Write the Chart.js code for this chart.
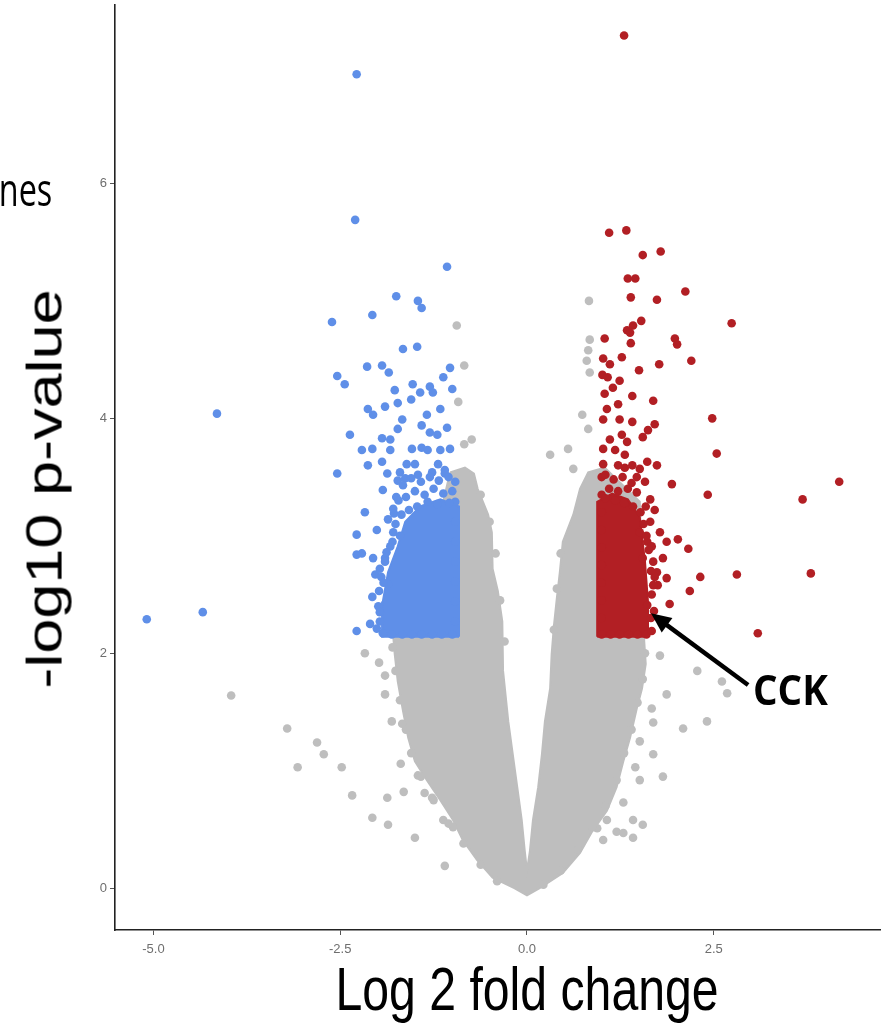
<!DOCTYPE html>
<html>
<head>
<meta charset="utf-8">
<script src="https://cdn.jsdelivr.net/npm/chart.js@4.4.1/dist/chart.umd.min.js"></script>
<style>
  html, body { margin: 0; padding: 0; background: #fff; }
  #wrap { position: relative; width: 894px; height: 1028px; overflow: hidden; }
  canvas { position: absolute; left: 0; top: 0; }
  .lbl { position: absolute; white-space: nowrap; line-height: 1; color: #000; }
  #nes { right: 842px; top: 158px; font: 45px "Open Sans", sans-serif; transform: scaleX(0.72); transform-origin: right center; }
  #ytitle { left: 44px; top: 489px; font: 63px "Liberation Sans", Arial, sans-serif; transform: translate(-50%, -50%) scaleX(0.79) rotate(-90deg); }
  #xtitle { left: 527px; top: 954px; font: 61px "Liberation Sans", Arial, sans-serif; transform: translateX(-50%) scaleX(0.79); }
  #cck { left: 753px; top: 660px; font: bold 42px "Open Sans", sans-serif; transform: scaleX(0.92); transform-origin: left center; }
</style>
</head>
<body>
<div id="wrap">
  <canvas id="volcano" width="894" height="1028"></canvas>
  <div class="lbl" id="nes">nes</div>
  <div class="lbl" id="ytitle">-log10 p-value</div>
  <div class="lbl" id="xtitle">Log 2 fold change</div>
  <div class="lbl" id="cck">CCK</div>
</div>
<script>
// axis ticks
const xTicks = [-5, -2.5, 0, 2.5];
const xTickLabels = ["-5.0", "-2.5", "0.0", "2.5"];
const yTicks = [0, 2, 4, 6];
const yTickLabels = ["0", "2", "4", "6"];

// outline of the dense grey V (non significant genes)
const grayCloud = [
  [-1.03,3.54],[-0.83,3.58],[-0.71,3.53],[-0.66,3.40],[-0.52,3.18],[-0.47,3.03],[-0.46,2.72],
  [-0.39,2.53],[-0.33,2.27],[-0.32,1.85],[-0.25,1.42],[-0.19,1.14],[-0.13,0.86],[-0.07,0.58],
  [-0.03,0.32],[0.00,0.15],[0.04,0.32],[0.08,0.58],[0.15,0.86],[0.20,1.14],[0.24,1.42],
  [0.31,1.70],[0.33,1.99],[0.36,2.23],[0.40,2.47],[0.44,2.69],[0.48,2.95],[0.62,3.18],
  [0.71,3.40],[0.82,3.54],[1.04,3.58],[1.51,3.29],[1.57,2.10],[1.59,1.91],[1.54,1.70],
  [1.47,1.53],[1.38,1.28],[1.29,1.08],[1.20,0.86],[1.07,0.66],[0.88,0.49],[0.71,0.30],
  [0.48,0.13],[0.17,0.00],[0.00,-0.06],[-0.17,0.00],[-0.46,0.09],[-0.67,0.24],[-0.86,0.41],
  [-0.99,0.58],[-1.16,0.75],[-1.34,0.92],[-1.50,1.08],[-1.59,1.28],[-1.66,1.51],[-1.73,1.76],
  [-1.77,1.99],[-1.79,2.14],[-1.43,2.44],[-1.03,3.54]
];

// scattered grey genes
const grayPoints = [
  [-3.96,1.64],[-3.21,1.36],[-2.81,1.24],[-2.72,1.14],[-3.07,1.03],[-2.48,1.03],[-2.34,0.79],
  [-2.17,2.00],[-1.98,1.92],[-1.90,1.81],[-1.90,1.65],[-1.81,1.42],[-1.67,1.40],[-1.69,1.06],
  [-1.87,0.77],[-1.65,0.82],[-2.07,0.60],[-1.86,0.54],[-1.50,0.43],[-1.10,0.19],[-1.12,0.58],
  [-0.99,0.52],[-1.46,0.96],[-1.37,0.81],[-1.27,0.77],
  [-0.94,4.79],[-0.84,4.45],[-0.92,4.14],[-0.84,3.78],[-0.74,3.82],
  [0.83,5.00],[0.84,4.67],[0.82,4.58],[0.80,4.49],[0.84,4.39],[0.74,4.03],[0.82,3.91],
  [0.55,3.74],[0.62,3.57],[0.31,3.69],
  [1.78,1.98],[2.28,1.85],[2.61,1.76],[2.68,1.66],[1.87,1.65],[2.41,1.42],[2.09,1.36],
  [1.67,1.53],[1.69,1.41],[1.51,1.25],[1.69,1.14],[1.82,0.95],[1.51,0.92],[1.45,1.03],
  [1.29,0.73],[1.42,0.58],[1.55,0.54],[1.42,0.43],[1.02,0.41],[1.20,0.48],[1.07,0.58],
  [1.29,0.47],[0.94,0.51],
  [-0.62,3.35],[-0.50,3.12],[-0.42,2.85],[-0.36,2.45],[-0.30,2.10],[0.45,2.85],[0.40,2.55],[0.36,2.20],
  [-1.80,2.05],[-1.76,1.85],[-1.70,1.60],[-1.62,1.35],[-1.55,1.15],[-1.42,0.95],[-1.25,0.75],
  [-1.05,0.55],[-0.85,0.38],[-0.62,0.20],[-0.40,0.06],
  [1.58,2.00],[1.55,1.78],[1.48,1.58],[1.40,1.35],[1.30,1.15],[1.20,0.92],[1.05,0.70],
  [0.88,0.52],[0.68,0.33],[0.45,0.15],[0.22,0.03]
];

// dense core of down-regulated genes
const blueCore = [
  [-0.91,2.14],[-0.91,3.25],[-1.16,3.31],[-1.43,3.25],[-1.63,3.12],[-1.73,2.91],
  [-1.86,2.69],[-1.93,2.44],[-1.94,2.14],[-0.91,2.14]
];

const bluePoints = [
  [-2.28,6.93],[-2.30,5.69],[-1.07,5.29],[-1.75,5.04],[-1.46,5.00],[-1.41,4.94],[-2.61,4.82],
  [-2.07,4.88],[-1.66,4.59],[-1.47,4.61],[-2.14,4.44],[-1.94,4.45],[-1.85,4.39],[-2.54,4.36],
  [-2.44,4.29],[-1.03,4.43],[-1.12,4.35],[-1.77,4.24],[-1.53,4.29],[-1.30,4.27],[-1.26,4.22],
  [-1.00,4.25],[-1.43,4.22],[-1.55,4.16],[-1.73,4.13],[-1.90,4.10],[-2.13,4.08],[-2.06,4.03],
  [-1.16,4.08],[-1.34,4.03],[-1.67,3.99],[-1.73,3.91],[-1.41,3.94],[-1.30,3.88],[-1.20,3.86],
  [-1.07,3.92],[-2.37,3.86],[-1.94,3.83],[-1.83,3.82],[-2.21,3.73],[-2.07,3.74],[-1.83,3.73],
  [-1.54,3.74],[-1.41,3.75],[-1.33,3.73],[-1.16,3.73],[-1.03,3.74],[-2.13,3.60],[-1.94,3.63],
  [-1.61,3.61],[-1.50,3.61],[-1.19,3.61],[-1.10,3.56],[-2.54,3.53],[-1.87,3.53],[-1.70,3.54],
  [-1.93,3.39],[-2.17,3.20],[-2.28,3.01],[-2.28,2.84],[-2.21,2.85],[-2.06,2.81],[-1.90,2.81],
  [-2.03,2.67],[-1.97,2.72],[-2.07,2.48],[-2.10,2.25],[-2.28,2.19],[-2.01,2.21],[-1.86,2.59],
  [-2.01,3.05],[-1.86,3.14],[-1.79,3.23],[-4.15,4.04],[-5.09,2.29],[-4.34,2.35],
  [-1.73,3.47],[-1.75,3.33],[-1.78,3.19],[-1.79,3.03],[-1.83,2.91],[-1.90,2.78],[-1.95,2.65],
  [-1.98,2.53],[-1.99,2.40],[-1.97,2.27],[-1.93,2.17],
  [-1.81,2.16],[-1.67,2.16],[-1.54,2.16],[-1.41,2.16],[-1.27,2.16],[-1.14,2.16],[-1.00,2.16],
  [-0.96,2.27],[-0.96,2.44],[-0.96,2.61],[-0.96,2.78],[-0.96,2.95],[-0.96,3.12],[-0.96,3.29],[-0.96,3.46],
  [-1.10,3.53],[-1.27,3.54],[-1.46,3.52],[-1.63,3.49],
  [-1.05,3.50],[-1.18,3.47],[-1.30,3.50],[-1.42,3.46],[-1.55,3.49],[-1.66,3.43],[-1.00,3.38],
  [-1.12,3.36],[-1.25,3.40],[-1.37,3.35],[-1.50,3.38],[-1.62,3.33],[-1.72,3.30],[-1.04,3.28],
  [-1.20,3.27],[-1.33,3.29],[-1.47,3.25],[-1.58,3.22],[-1.68,3.18],[-1.76,3.10],[-1.70,3.00],
  [-1.80,2.95],[-1.88,2.86],[-1.92,2.60],[-1.97,2.35]
];

// dense core of up-regulated genes
const redCore = [
  [0.94,2.14],[0.94,3.29],[1.14,3.36],[1.35,3.31],[1.51,3.16],[1.58,2.78],
  [1.62,2.44],[1.62,2.14],[0.94,2.14]
];

const redPoints = [
  [1.30,7.26],[1.10,5.58],[1.33,5.60],[1.55,5.39],[1.79,5.42],[1.35,5.19],[1.45,5.19],
  [1.39,5.03],[1.74,5.01],[2.12,5.08],[1.53,4.83],[2.74,4.81],[1.42,4.79],[1.34,4.75],
  [1.04,4.68],[1.38,4.73],[1.98,4.68],[2.01,4.63],[1.39,4.64],[1.02,4.51],[1.11,4.46],
  [1.27,4.52],[1.77,4.46],[2.20,4.49],[1.50,4.41],[1.01,4.37],[1.08,4.35],[1.24,4.32],
  [1.15,4.26],[1.04,4.21],[1.41,4.19],[1.69,4.15],[1.22,4.12],[1.07,4.08],[2.48,4.00],
  [1.02,3.99],[1.24,3.99],[1.41,3.97],[1.71,3.95],[1.62,3.90],[1.55,3.84],[1.11,3.82],
  [1.27,3.86],[1.34,3.80],[1.02,3.74],[1.18,3.73],[1.31,3.69],[2.54,3.70],[1.02,3.61],
  [1.22,3.60],[1.41,3.60],[1.51,3.57],[1.61,3.63],[1.74,3.60],[1.94,3.44],[2.42,3.35],
  [4.18,3.46],[3.69,3.31],[1.58,3.46],[1.65,3.31],[1.71,3.22],[1.78,3.03],[1.87,2.95],
  [2.02,2.97],[2.16,2.89],[1.51,3.03],[1.61,2.95],[1.55,2.81],[1.69,2.78],[1.82,2.81],
  [1.87,2.64],[1.75,2.58],[2.32,2.65],[2.81,2.67],[3.80,2.68],[2.18,2.53],[1.91,2.42],
  [1.61,2.41],[3.09,2.17],[1.69,2.58],[1.74,2.69],
  [1.00,2.16],[1.00,2.30],[1.00,2.45],[1.00,2.60],[1.00,2.75],[1.00,2.90],[1.00,3.05],
  [1.00,3.20],[1.00,3.35],[1.00,3.50],
  [1.12,2.16],[1.24,2.16],[1.36,2.16],[1.48,2.16],[1.60,2.16],
  [1.59,3.25],[1.65,3.12],[1.67,2.91],[1.71,2.65],[1.70,2.36],[1.67,2.19],
  [1.31,3.58],[1.47,3.50],
  [1.05,3.52],[1.16,3.48],[1.28,3.50],[1.40,3.45],[1.10,3.40],[1.22,3.38],[1.35,3.40],
  [1.47,3.37],[1.05,3.32],[1.18,3.30],[1.30,3.28],[1.42,3.25],[1.52,3.20],[1.56,3.10],
  [1.60,3.00],[1.63,2.88],[1.66,2.70],[1.67,2.50],[1.66,2.30]
];

// CCK arrow (data coordinates)
const arrowFrom = [2.96, 1.73];
const arrowTo = [1.66, 2.34];

const GREY = "#bebebe";
const BLUE = "#5f8fe8";
const RED = "#b21f24";

const toXY = (arr) => arr.map(p => ({ x: p[0], y: p[1] }));

function cloud(data, color, order) {
  return {
    type: "scatter", data: toXY(data), showLine: true, fill: "shape",
    backgroundColor: color, borderColor: color, borderWidth: 2,
    pointRadius: 0, order: order
  };
}
function dots(data, color, order) {
  return {
    type: "scatter", data: toXY(data), backgroundColor: color, borderWidth: 0,
    pointRadius: 4.3, pointHoverRadius: 4.3, order: order
  };
}

const arrowPlugin = {
  id: "cckArrow",
  afterDatasetsDraw(chart) {
    const { ctx, scales } = chart;
    const x0 = scales.x.getPixelForValue(arrowFrom[0]), y0 = scales.y.getPixelForValue(arrowFrom[1]);
    const x1 = scales.x.getPixelForValue(arrowTo[0]), y1 = scales.y.getPixelForValue(arrowTo[1]);
    const a = Math.atan2(y1 - y0, x1 - x0);
    const head = 20, half = 9;
    const c = Math.cos(a), s = Math.sin(a);
    ctx.save();
    ctx.strokeStyle = "#000";
    ctx.fillStyle = "#000";
    ctx.lineWidth = 4.5;
    ctx.beginPath();
    ctx.moveTo(x0, y0);
    ctx.lineTo(x1 - c * head * 0.8, y1 - s * head * 0.8);
    ctx.stroke();
    ctx.beginPath();
    ctx.moveTo(x1, y1);
    ctx.lineTo(x1 - head * c + half * s, y1 - head * s - half * c);
    ctx.lineTo(x1 - head * c - half * s, y1 - head * s + half * c);
    ctx.closePath();
    ctx.fill();
    ctx.restore();
  }
};

const tickFont = { family: "'Liberation Sans', Arial, sans-serif", size: 13 };

new Chart(document.getElementById("volcano"), {
  type: "scatter",
  data: {
    datasets: [
      dots(redPoints, RED, 0),
      cloud(redCore, RED, 1),
      dots(bluePoints, BLUE, 2),
      cloud(blueCore, BLUE, 3),
      dots(grayPoints, GREY, 4),
      cloud(grayCloud, GREY, 5)
    ]
  },
  options: {
    responsive: false,
    animation: false,
    devicePixelRatio: 1,
    events: [],
    layout: { padding: { left: 0, right: 14, top: 0, bottom: 0 } },
    plugins: { legend: { display: false }, tooltip: { enabled: false } },
    scales: {
      x: {
        type: "linear", min: -5.515, max: 4.726,
        afterBuildTicks: (scale) => { scale.ticks = xTicks.map(v => ({ value: v })); },
        afterFit: (scale) => { scale.height = 98; scale.paddingLeft = 0; scale.paddingRight = 0; },
        ticks: {
          callback: (v) => xTickLabels[xTicks.indexOf(v)],
          color: "#6e6e6e", font: tickFont, padding: 7, maxRotation: 0
        },
        grid: { drawOnChartArea: false, drawTicks: true, tickLength: 5, color: "#555" },
        border: { display: true, color: "#222", width: 1.6 }
      },
      y: {
        type: "linear", min: -0.356, max: 7.525,
        afterBuildTicks: (scale) => { scale.ticks = yTicks.map(v => ({ value: v })); },
        afterFit: (scale) => { scale.width = 115; scale.paddingTop = 0; scale.paddingBottom = 0; },
        ticks: {
          callback: (v) => yTickLabels[yTicks.indexOf(v)],
          color: "#6e6e6e", font: tickFont, padding: 3
        },
        grid: { drawOnChartArea: false, drawTicks: true, tickLength: 5, color: "#555" },
        border: { display: true, color: "#222", width: 1.6 }
      }
    }
  },
  plugins: [arrowPlugin]
});
</script>
</body>
</html>
